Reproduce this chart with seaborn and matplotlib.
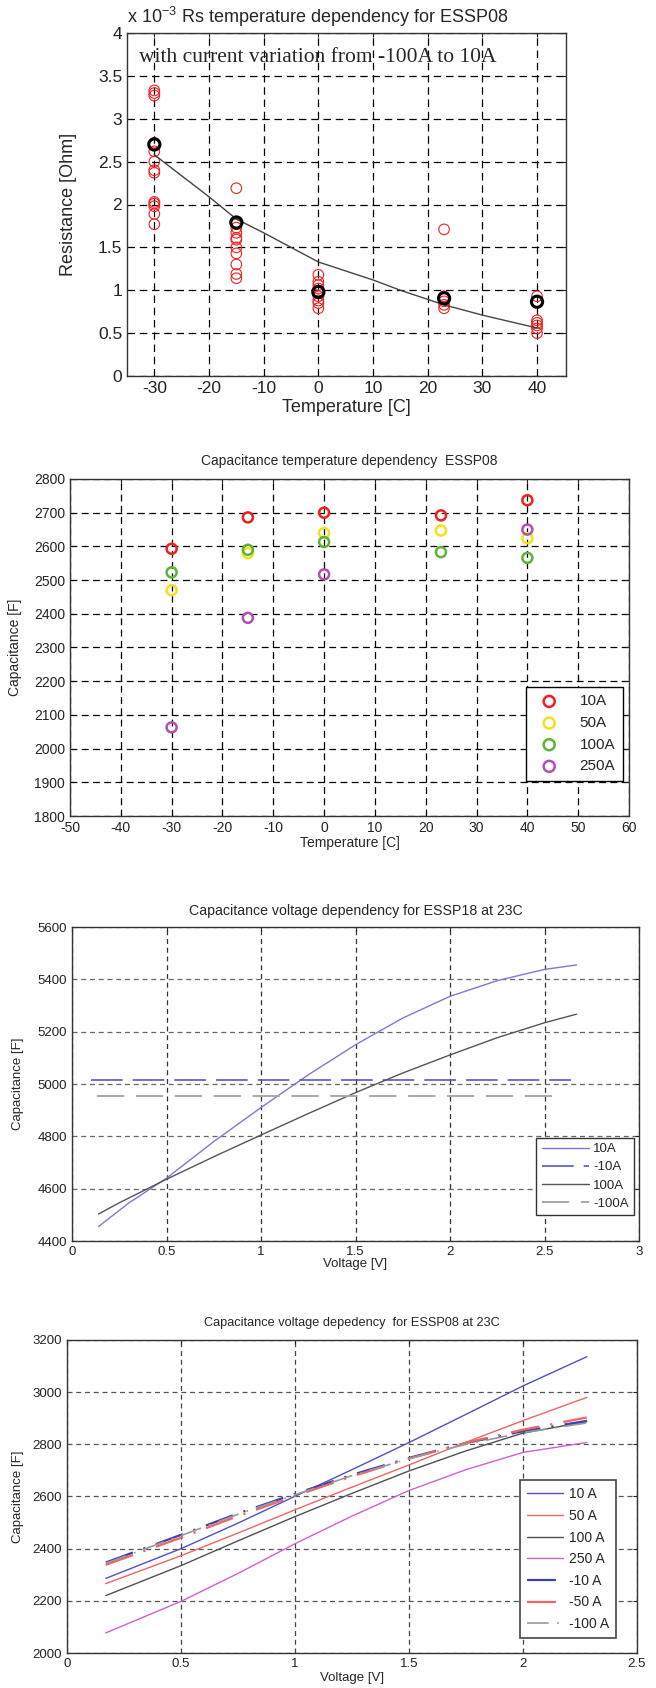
import numpy as np
import pandas as pd
import matplotlib
matplotlib.use("Agg")
import matplotlib.pyplot as plt
from matplotlib.ticker import FuncFormatter
import seaborn as sb

# ---------------- data ----------------
# Rs vs temperature (values in 1e-3 Ohm)
rs_temp_red = [-30] * 13 + [-15] * 12 + [0] * 9 + [23] * 5 + [40] * 6
rs_val_red = [3.33, 3.30, 3.27, 2.72, 2.62, 2.50, 2.40, 2.37, 2.03, 2.01, 1.98, 1.89, 1.77,
              2.19, 1.79, 1.77, 1.73, 1.67, 1.61, 1.59, 1.50, 1.43, 1.30, 1.19, 1.14,
              1.18, 1.10, 1.06, 1.02, 0.98, 0.93, 0.88, 0.85, 0.79,
              1.71, 0.93, 0.87, 0.83, 0.79,
              0.93, 0.65, 0.62, 0.59, 0.555, 0.50]
rs_temp_mean = [-30, -15, 0, 23, 40]
rs_val_mean = [2.70, 1.79, 0.98, 0.906, 0.866]
fit_temp = [-30, -20, -15, -10, 0, 10, 15, 23, 30, 40]
fit_val = [2.58, 2.09, 1.83, 1.67, 1.33, 1.12, 1.00, 0.83, 0.71, 0.56]

# Capacitance vs temperature
cap_temps = [-30, -15, 0, 23, 40]
cap_10A = [2593, 2686, 2700, 2692, 2737]
cap_50A = [2470, 2580, 2640, 2647, 2624]
cap_100A = [2523, 2590, 2613, 2583, 2566]
cap_250A_temps = [-30, -15, 0, 40]
cap_250A = [2063, 2388, 2517, 2650]

# Capacitance vs voltage, ESSP18
v18 = [0.14, 0.3, 0.5, 0.75, 1.0, 1.25, 1.5, 1.75, 2.0, 2.25, 2.5, 2.67]
c18_10A = [4455, 4545, 4640, 4780, 4910, 5035, 5150, 5252, 5335, 5395, 5438, 5455]
v18_100A = [0.14, 0.25, 0.5, 0.75, 1.0, 1.25, 1.5, 1.75, 2.0, 2.25, 2.5, 2.67]
c18_100A = [4503, 4546, 4636, 4722, 4805, 4887, 4967, 5042, 5111, 5177, 5234, 5267]
v18_m10A = [0.10, 2.64]
c18_m10A = [5015, 5015]
v18_m100A = [0.13, 2.60]
c18_m100A = [4954, 4954]

# Capacitance vs voltage, ESSP08
v08 = [0.17, 0.5, 0.75, 1.0, 1.25, 1.5, 1.75, 2.0, 2.28]
c08_10A = [2286, 2400, 2498, 2601, 2703, 2807, 2915, 3024, 3136]
c08_50A = [2266, 2373, 2460, 2549, 2636, 2721, 2808, 2891, 2980]
c08_100A = [2220, 2335, 2430, 2523, 2612, 2698, 2775, 2843, 2887]
c08_250A = [2077, 2198, 2305, 2419, 2525, 2623, 2703, 2769, 2807]
c08_m10A = [2347, 2453, 2535, 2610, 2683, 2748, 2805, 2850, 2890]
c08_m50A = [2338, 2442, 2525, 2602, 2677, 2745, 2806, 2856, 2903]
c08_m100A = [2344, 2450, 2532, 2607, 2680, 2745, 2800, 2845, 2882]

# ---------------- style ----------------
sb.set_style("white")
plt.rcParams['font.family'] = ['Liberation Sans', 'DejaVu Sans']
plt.rcParams['axes.linewidth'] = 1.0

fig = plt.figure(figsize=(6.56, 16.88), dpi=100)
W, H = 656, 1688


def make_axes(left, top, right, bottom):
    return fig.add_axes([left / W, 1 - bottom / H, (right - left) / W, (bottom - top) / H])


gfmt = FuncFormatter(lambda v, p: '%g' % v)


def box_axes(ax, fs, gcol='k', dash=(0, (6, 4)), hcol=None):
    ax.tick_params(direction='in', top=True, right=True, labelsize=fs, length=3, colors='#222')
    for s in ax.spines.values():
        s.set_color('#333')
        s.set_visible(True)
    ax.xaxis.grid(True, linestyle=dash, color=gcol, linewidth=0.9)
    ax.yaxis.grid(True, linestyle=dash, color=hcol or gcol, linewidth=0.9)
    ax.xaxis.set_major_formatter(gfmt)
    ax.yaxis.set_major_formatter(gfmt)


# ---------------- panel 1 ----------------
ax1 = make_axes(127, 33, 566, 376)
df_red = pd.DataFrame({'T': rs_temp_red, 'R': rs_val_red})
sb.scatterplot(data=df_red, x='T', y='R', ax=ax1, marker='o', s=58,
               facecolor='none', edgecolor='#ee2222', color='#ee2222', linewidth=0.8, zorder=3)
sb.lineplot(x=fit_temp, y=fit_val, ax=ax1, color='#444444', linewidth=1.0, zorder=4)
sb.scatterplot(x=rs_temp_mean, y=rs_val_mean, ax=ax1, marker='o', s=65,
               facecolor='none', edgecolor='k', color='k', linewidth=2.2, zorder=5)
ax1.set_xlim(-35, 45.3)
ax1.set_ylim(0, 4)
ax1.set_xticks(np.arange(-30, 41, 10))
ax1.set_yticks(np.arange(0, 4.01, 0.5))
box_axes(ax1, 12.5, dash=(0, (6, 3.8)))
ax1.set_xlabel('Temperature [C]', fontsize=13)
ax1.set_ylabel('Resistance [Ohm]', fontsize=13)
ax1.xaxis.set_label_coords(0.5, -0.066)
ax1.yaxis.set_label_coords(-0.115, 0.5)
ax1.text(0.0, 1.048, r'x 10$^{\mathregular{-3}}$ Rs temperature dependency for ESSP08',
         transform=ax1.transAxes, ha='left', va='center', fontsize=13)
ax1.text(-32.8, 3.72, 'with current variation from -100A to 10A',
         family=['Liberation Serif', 'DejaVu Serif'], fontsize=15.5, va='center', ha='left')

# ---------------- panel 2 ----------------
ax2 = make_axes(70, 479, 629, 816)
series2 = [(cap_temps, cap_10A, '#ee2020', '10A'),
           (cap_temps, cap_50A, '#f2e21a', '50A'),
           (cap_temps, cap_100A, '#5cb338', '100A'),
           (cap_250A_temps, cap_250A, '#b24fb0', '250A')]
for xs, ys, col, lab in series2:
    sb.scatterplot(x=xs, y=ys, ax=ax2, marker='o', s=52, facecolor='none',
                   edgecolor=col, color=col, linewidth=1.8, label=lab, zorder=3)
ax2.set_xlim(-50, 60)
ax2.set_ylim(1800, 2800)
ax2.set_xticks(np.arange(-50, 61, 10))
ax2.set_yticks(np.arange(1800, 2801, 100))
box_axes(ax2, 10, dash=(0, (5.5, 3.5)))
ax2.text(0.5, 1.052, 'Capacitance temperature dependency  ESSP08', transform=ax2.transAxes,
         ha='center', va='center', fontsize=10)
ax2.set_xlabel('Temperature [C]', fontsize=10)
ax2.set_ylabel('Capacitance [F]', fontsize=10)
ax2.xaxis.set_label_coords(0.5, -0.058)
ax2.yaxis.set_label_coords(-0.085, 0.5)
leg2 = ax2.legend(loc='lower right', bbox_to_anchor=(623 / W, 1 - 781 / H), bbox_transform=fig.transFigure,
                  fontsize=11, frameon=True, fancybox=False, edgecolor='k', framealpha=1,
                  borderpad=0.5, labelspacing=0.5, handletextpad=1.0, borderaxespad=0,
                  markerscale=1.1)
leg2.get_frame().set_linewidth(1.0)

# ---------------- panel 3 ----------------
ax3 = make_axes(72, 927, 639, 1241)
sb.lineplot(x=v18, y=c18_10A, ax=ax3, color='#7a7ad6', linewidth=1.0, label='10A')
sb.lineplot(x=v18_m10A, y=c18_m10A, ax=ax3, color='#5656c8', linewidth=1.2,
            linestyle=(0, (19, 6)), label='-10A')
sb.lineplot(x=v18_100A, y=c18_100A, ax=ax3, color='#555555', linewidth=1.0, label='100A')
sb.lineplot(x=v18_m100A, y=c18_m100A, ax=ax3, color='#a8a8a8', linewidth=1.4,
            linestyle=(0, (14, 6)), label='-100A')
ax3.set_xlim(0, 3)
ax3.set_ylim(4400, 5600)
ax3.set_xticks(np.arange(0, 3.01, 0.5))
ax3.set_yticks(np.arange(4400, 5601, 200))
box_axes(ax3, 9.5, gcol='#333333', dash=(0, (4, 3)), hcol='#666666')
ax3.text(0.5, 1.05, 'Capacitance voltage dependency for ESSP18 at 23C', transform=ax3.transAxes,
         ha='center', va='center', fontsize=10.2)
ax3.set_xlabel('Voltage [V]', fontsize=9.5)
ax3.set_ylabel('Capacitance [F]', fontsize=9.5)
ax3.xaxis.set_label_coords(0.5, -0.055)
ax3.yaxis.set_label_coords(-0.085, 0.5)
leg3 = ax3.legend(loc='lower right', bbox_to_anchor=(634 / W, 1 - 1215 / H), bbox_transform=fig.transFigure,
                  fontsize=9.5, frameon=True, fancybox=False, edgecolor='#333', framealpha=1,
                  borderpad=0.4, labelspacing=0.45, handlelength=3.6, handletextpad=0.3,
                  borderaxespad=0)
leg3.get_frame().set_linewidth(1.0)

# ---------------- panel 4 ----------------
ax4 = make_axes(67, 1340, 637, 1653)
series4 = [(c08_10A, '#5050c0', '-', 1.0, '10 A'),
           (c08_50A, '#f06464', '-', 1.0, '50 A'),
           (c08_100A, '#505050', '-', 1.0, '100 A'),
           (c08_250A, '#d060d0', '-', 1.0, '250 A'),
           (c08_m10A, '#4040b0', (0, (13, 5, 1, 5)), 1.6, '-10 A'),
           (c08_m50A, '#f06464', (0, (13, 5, 1, 5)), 1.6, '-50 A'),
           (c08_m100A, '#9a9a9a', (0, (13, 5, 1, 5)), 1.2, '-100 A')]
for ys, col, ls, lw, lab in series4:
    sb.lineplot(x=v08, y=ys, ax=ax4, color=col, linestyle=ls, linewidth=lw, label=lab)
ax4.set_xlim(0, 2.5)
ax4.set_ylim(2000, 3200)
ax4.set_xticks(np.arange(0, 2.51, 0.5))
ax4.set_yticks(np.arange(2000, 3201, 200))
box_axes(ax4, 9.5, gcol='#444444', dash=(0, (4, 3)), hcol='#555555')
ax4.text(0.5, 1.054, 'Capacitance voltage depedency  for ESSP08 at 23C', transform=ax4.transAxes,
         ha='center', va='center', fontsize=9.2)
ax4.set_xlabel('Voltage [V]', fontsize=9.5)
ax4.set_ylabel('Capacitance [F]', fontsize=9.5)
ax4.xaxis.set_label_coords(0.5, -0.06)
ax4.yaxis.set_label_coords(-0.075, 0.5)
leg4 = ax4.legend(loc='lower right', bbox_to_anchor=(616 / W, 1 - 1638 / H), bbox_transform=fig.transFigure,
                  fontsize=10, frameon=True, fancybox=False, edgecolor='#444', framealpha=1,
                  borderpad=0.5, labelspacing=0.55, handlelength=2.6, handletextpad=0.4,
                  borderaxespad=0)
leg4.get_frame().set_linewidth(1.2)

fig.savefig('out.png', dpi=100)
